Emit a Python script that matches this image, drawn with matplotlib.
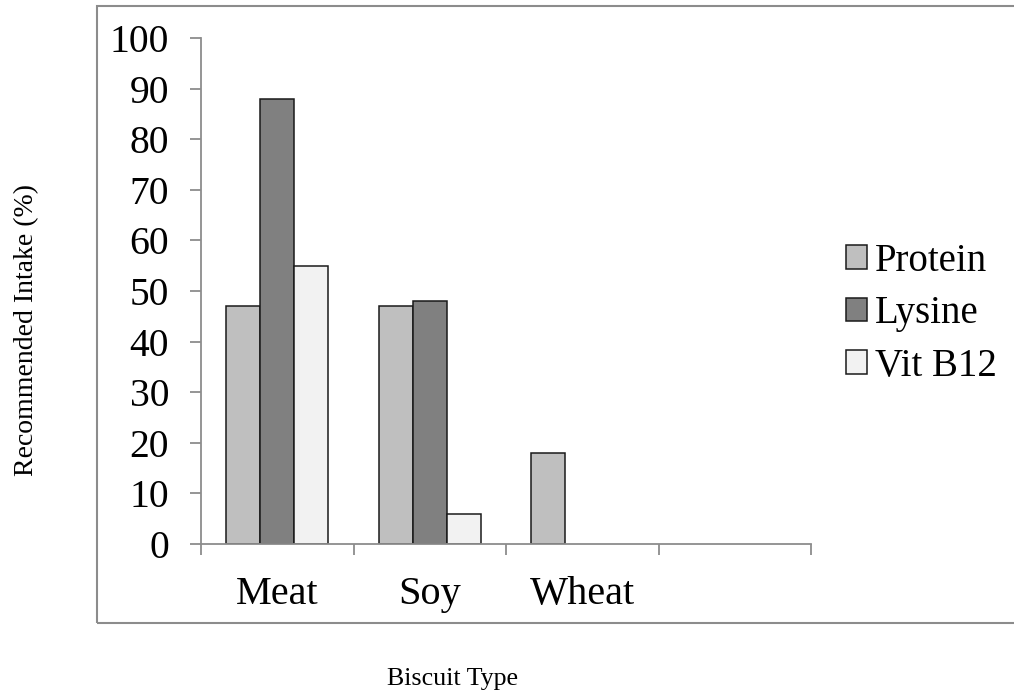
import matplotlib.pyplot as plt
from matplotlib.patches import Rectangle
import numpy as np

plt.rcParams['font.family'] = ['Liberation Serif', 'DejaVu Serif']

categories = ["Meat", "Soy", "Wheat", ""]
series = ["Protein", "Lysine", "Vit B12"]
protein = [47, 47, 18, 0]
lysine = [88, 48, 0, 0]
vit_b12 = [55, 6, 0, 0]
colors = ["#bfbfbf", "#808080", "#f2f2f2"]

fig = plt.figure(figsize=(10.14, 6.95), dpi=100)
ax = fig.add_axes([201 / 1014, 151 / 695, 610 / 1014, 506 / 695])

# outer chart frame (runs off the right edge like the original)
fig.patches.append(Rectangle((97 / 1014, 72 / 695), 1.0, 617 / 695,
                             transform=fig.transFigure, fill=False,
                             edgecolor="#8c8c8c", linewidth=1.5))

x = np.arange(len(categories))
w = 0.223
for i, (vals, name) in enumerate(zip([protein, lysine, vit_b12], series)):
    v = np.array(vals, dtype=float)
    mask = v > 0
    ax.bar(x[mask] + (i - 1) * w, v[mask], width=w, color=colors[i],
           edgecolor="#1a1a1a", linewidth=1.1, label=name)

ax.set_xlim(-0.5, len(categories) - 0.5)
ax.set_ylim(0, 100)
ax.set_yticks(range(0, 101, 10))
ax.set_xticks(x)
ax.set_xticklabels(categories)
ax.set_xticks(np.arange(-0.5, len(categories), 1), minor=True)
ax.tick_params(axis="x", which="major", length=0, pad=23, labelsize=29)
ax.tick_params(axis="x", which="minor", length=8, width=1.3, color="#8c8c8c",
               direction="out")
ax.tick_params(axis="y", length=8, width=1.3, color="#8c8c8c", pad=15,
               labelsize=28.5)

for s in ["top", "right"]:
    ax.spines[s].set_visible(False)
for s in ["left", "bottom"]:
    ax.spines[s].set_color("#8c8c8c")
    ax.spines[s].set_linewidth(1.3)

fig.text(453 / 1014, 1 - 679 / 695, "Biscuit Type", ha="center", va="center",
         fontsize=18.7)
fig.text(27 / 1014, 1 - 330 / 695, "Recommended Intake (%)", ha="center",
         va="center", rotation=90, fontsize=20)

ax.legend(loc="center left", bbox_to_anchor=(1.0, 0.455), frameon=False,
          fontsize=28, handlelength=0.55, handleheight=0.55,
          handletextpad=0.2, labelspacing=0.4)

fig.savefig("out.png", dpi=100)
